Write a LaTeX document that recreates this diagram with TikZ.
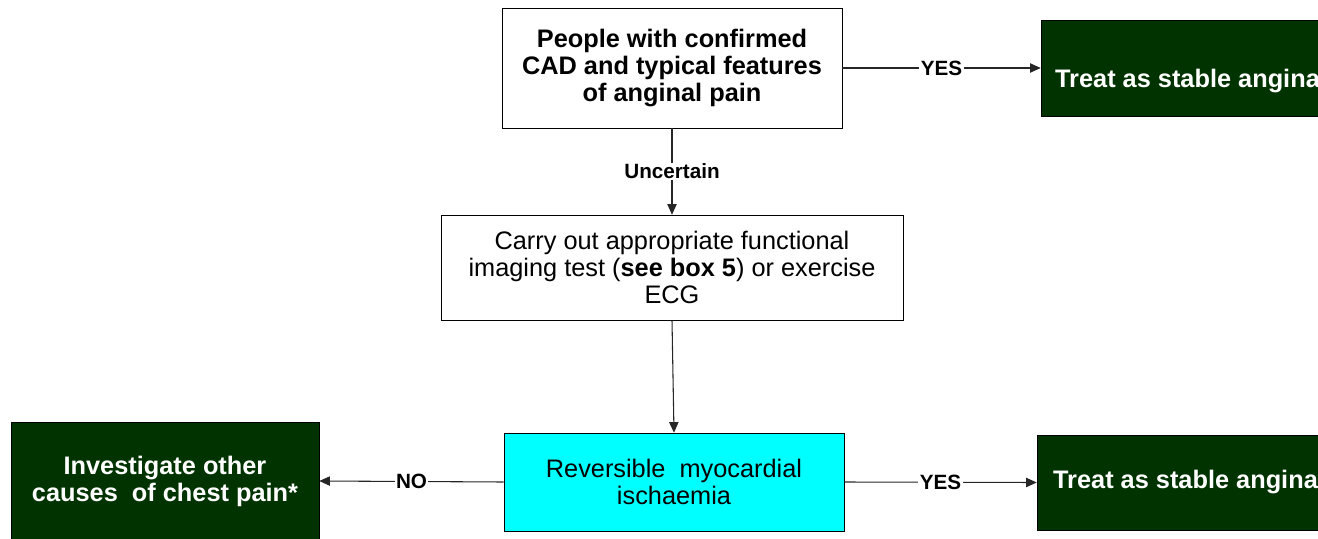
\documentclass[tikz,border=0pt]{standalone}
\usepackage{fontspec}
\setmainfont{Liberation Sans}
\usetikzlibrary{arrows.meta}

\definecolor{darkgreen}{HTML}{003300}
\definecolor{brightcyan}{HTML}{00FFFF}

\tikzset{
    whitebox/.style={draw=black, fill=white, align=center, inner sep=0pt,
        font=\fontsize{19}{20.25}\selectfont},
    greenbox/.style={whitebox, fill=darkgreen, text=white, font=\fontsize{19}{20.25}\selectfont\bfseries},
    arrowlabel/.style={midway, fill=white, inner sep=1pt, font=\fontsize{15.5}{16}\selectfont\bfseries},
    flow/.style={draw=black!85, line width=0.8pt, -{Triangle[length=8pt, width=7pt]}}
}

\begin{document}
\begin{tikzpicture}[x=0.75pt, y=-0.75pt]
    \useasboundingbox (0, 0) rectangle (1318, 539);
    \clip (0, 0) rectangle (1318, 539);

    \node[whitebox, font=\fontsize{19}{20.25}\selectfont\bfseries, minimum width=255pt, minimum height=90pt] (people) at (672, 68)
        {People with confirmed\\CAD and typical features\\of anginal pain};
    \node[greenbox, text height=33.5pt, text depth=4pt, minimum width=219.75pt, minimum height=72pt] (stabletop) at (1187.5, 68)
        {Treat as stable angina};

    \node[whitebox, minimum width=346.5pt, minimum height=78.75pt] (imaging) at (672, 267.5)
        {Carry out appropriate functional\\imaging test (\textbf{see box 5}) or exercise\\ECG};

    \node[whitebox, fill=brightcyan, minimum width=255pt, minimum height=73.5pt] (ischaemia) at (674, 482)
        {Reversible\ \ myocardial\\ischaemia};
    \node[greenbox, minimum width=231pt, minimum height=88.5pt] (othercauses) at (165, 481)
        {Investigate other\\causes\ \ of chest pain*};
    \node[greenbox, minimum width=222.75pt, minimum height=71.25pt] (stablebottom) at (1185.5, 482.5)
        {Treat as stable angina};

    % connectors
    \draw[flow] (people.south) -- node[arrowlabel] {Uncertain} (imaging.north);
    \draw[flow] (people.east) -- node[arrowlabel] {YES} (stabletop.west);
    \draw[flow] (imaging.south) -- (ischaemia.north);
    \draw[flow] (ischaemia.west) -- node[arrowlabel] {NO} (othercauses.east);
    \draw[flow] (ischaemia.east) -- node[arrowlabel] {YES} (stablebottom.west);
\end{tikzpicture}
\end{document}
